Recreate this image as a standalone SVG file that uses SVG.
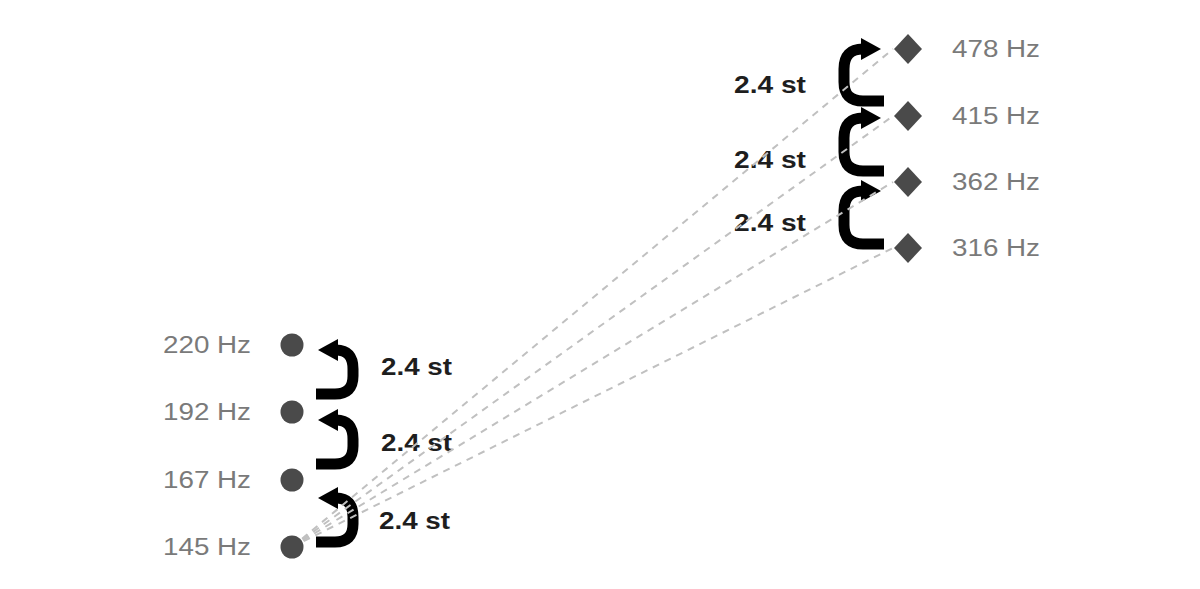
<svg xmlns="http://www.w3.org/2000/svg" width="1200" height="589" viewBox="0 0 1200 589">
  <style>
    .hz { font-family: "Liberation Sans", Arial, sans-serif; font-size: 23px; fill: #7a7a7a; }
    .st { font-family: "Liberation Sans", Arial, sans-serif; font-size: 23px; font-weight: bold; fill: #1e1e1e; }
    .dot { fill: #4a4a4a; }
    .arc { fill: none; stroke: #000000; stroke-width: 11; marker-end: url(#ah); }
    .dash { fill: none; stroke: #c0c0c0; stroke-width: 2; stroke-dasharray: 7 6; }
  </style>
  <defs>
    <marker id="ah" markerUnits="userSpaceOnUse" viewBox="0 0 20 22" markerWidth="20" markerHeight="22" refX="8" refY="11" orient="auto">
      <path d="M0 0 L20 11 L0 22 Z" fill="#000000"/>
    </marker>
  </defs>
  <rect width="1200" height="589" fill="#ffffff"/>
  <g id="connectors">
    <path class="arc" d="M316 394 H335 Q353 394 353 376 V369 Q353 350 336 350 H330"/>
    <path class="arc" d="M316 464 H335 Q353 464 353 446 V439 Q353 420 336 420 H330"/>
    <path class="arc" d="M316 542 H335 Q353 542 353 524 V517 Q353 498 336 498 H330"/>
    <path class="arc" d="M884 101 H863 Q844 101 844 82 V69 Q844 49 863 49 H869"/>
    <path class="arc" d="M884 171 H863 Q844 171 844 152 V138 Q844 118 863 118 H869"/>
    <path class="arc" d="M884 244 H863 Q844 244 844 225 V211 Q844 191 863 191 H869"/>
    <text class="st" x="381" y="375" textLength="71" lengthAdjust="spacingAndGlyphs">2.4 st</text>
    <text class="st" x="381" y="451" textLength="71" lengthAdjust="spacingAndGlyphs">2.4 st</text>
    <text class="st" x="379" y="529" textLength="71" lengthAdjust="spacingAndGlyphs">2.4 st</text>
    <text class="st" x="734" y="93" textLength="72" lengthAdjust="spacingAndGlyphs">2.4 st</text>
    <text class="st" x="734" y="168" textLength="72" lengthAdjust="spacingAndGlyphs">2.4 st</text>
    <text class="st" x="734" y="231" textLength="72" lengthAdjust="spacingAndGlyphs">2.4 st</text>
    <line class="dash" x1="292" y1="547" x2="893" y2="49"/>
    <line class="dash" x1="292" y1="547" x2="893" y2="116"/>
    <line class="dash" x1="292" y1="547" x2="893" y2="182"/>
    <line class="dash" x1="292" y1="547" x2="893" y2="248"/>
  </g>
  <g id="n220">
    <circle class="dot" cx="292" cy="345" r="11.5"/>
    <text class="hz" x="163" y="353" textLength="88" lengthAdjust="spacingAndGlyphs">220 Hz</text>
  </g>
  <g id="n192">
    <circle class="dot" cx="292" cy="412" r="11.5"/>
    <text class="hz" x="163" y="420" textLength="88" lengthAdjust="spacingAndGlyphs">192 Hz</text>
  </g>
  <g id="n167">
    <circle class="dot" cx="292" cy="480" r="11.5"/>
    <text class="hz" x="163" y="488" textLength="88" lengthAdjust="spacingAndGlyphs">167 Hz</text>
  </g>
  <g id="n145">
    <circle class="dot" cx="292" cy="547" r="11.5"/>
    <text class="hz" x="163" y="555" textLength="88" lengthAdjust="spacingAndGlyphs">145 Hz</text>
  </g>
  <g id="n478">
    <polygon class="dot" points="908,34 922,49 908,64 894,49"/>
    <text class="hz" x="952" y="57" textLength="88" lengthAdjust="spacingAndGlyphs">478 Hz</text>
  </g>
  <g id="n415">
    <polygon class="dot" points="908,101 922,116 908,131 894,116"/>
    <text class="hz" x="952" y="124" textLength="88" lengthAdjust="spacingAndGlyphs">415 Hz</text>
  </g>
  <g id="n362">
    <polygon class="dot" points="908,167 922,182 908,197 894,182"/>
    <text class="hz" x="952" y="190" textLength="88" lengthAdjust="spacingAndGlyphs">362 Hz</text>
  </g>
  <g id="n316">
    <polygon class="dot" points="908,233 922,248 908,263 894,248"/>
    <text class="hz" x="952" y="256" textLength="88" lengthAdjust="spacingAndGlyphs">316 Hz</text>
  </g>
</svg>
